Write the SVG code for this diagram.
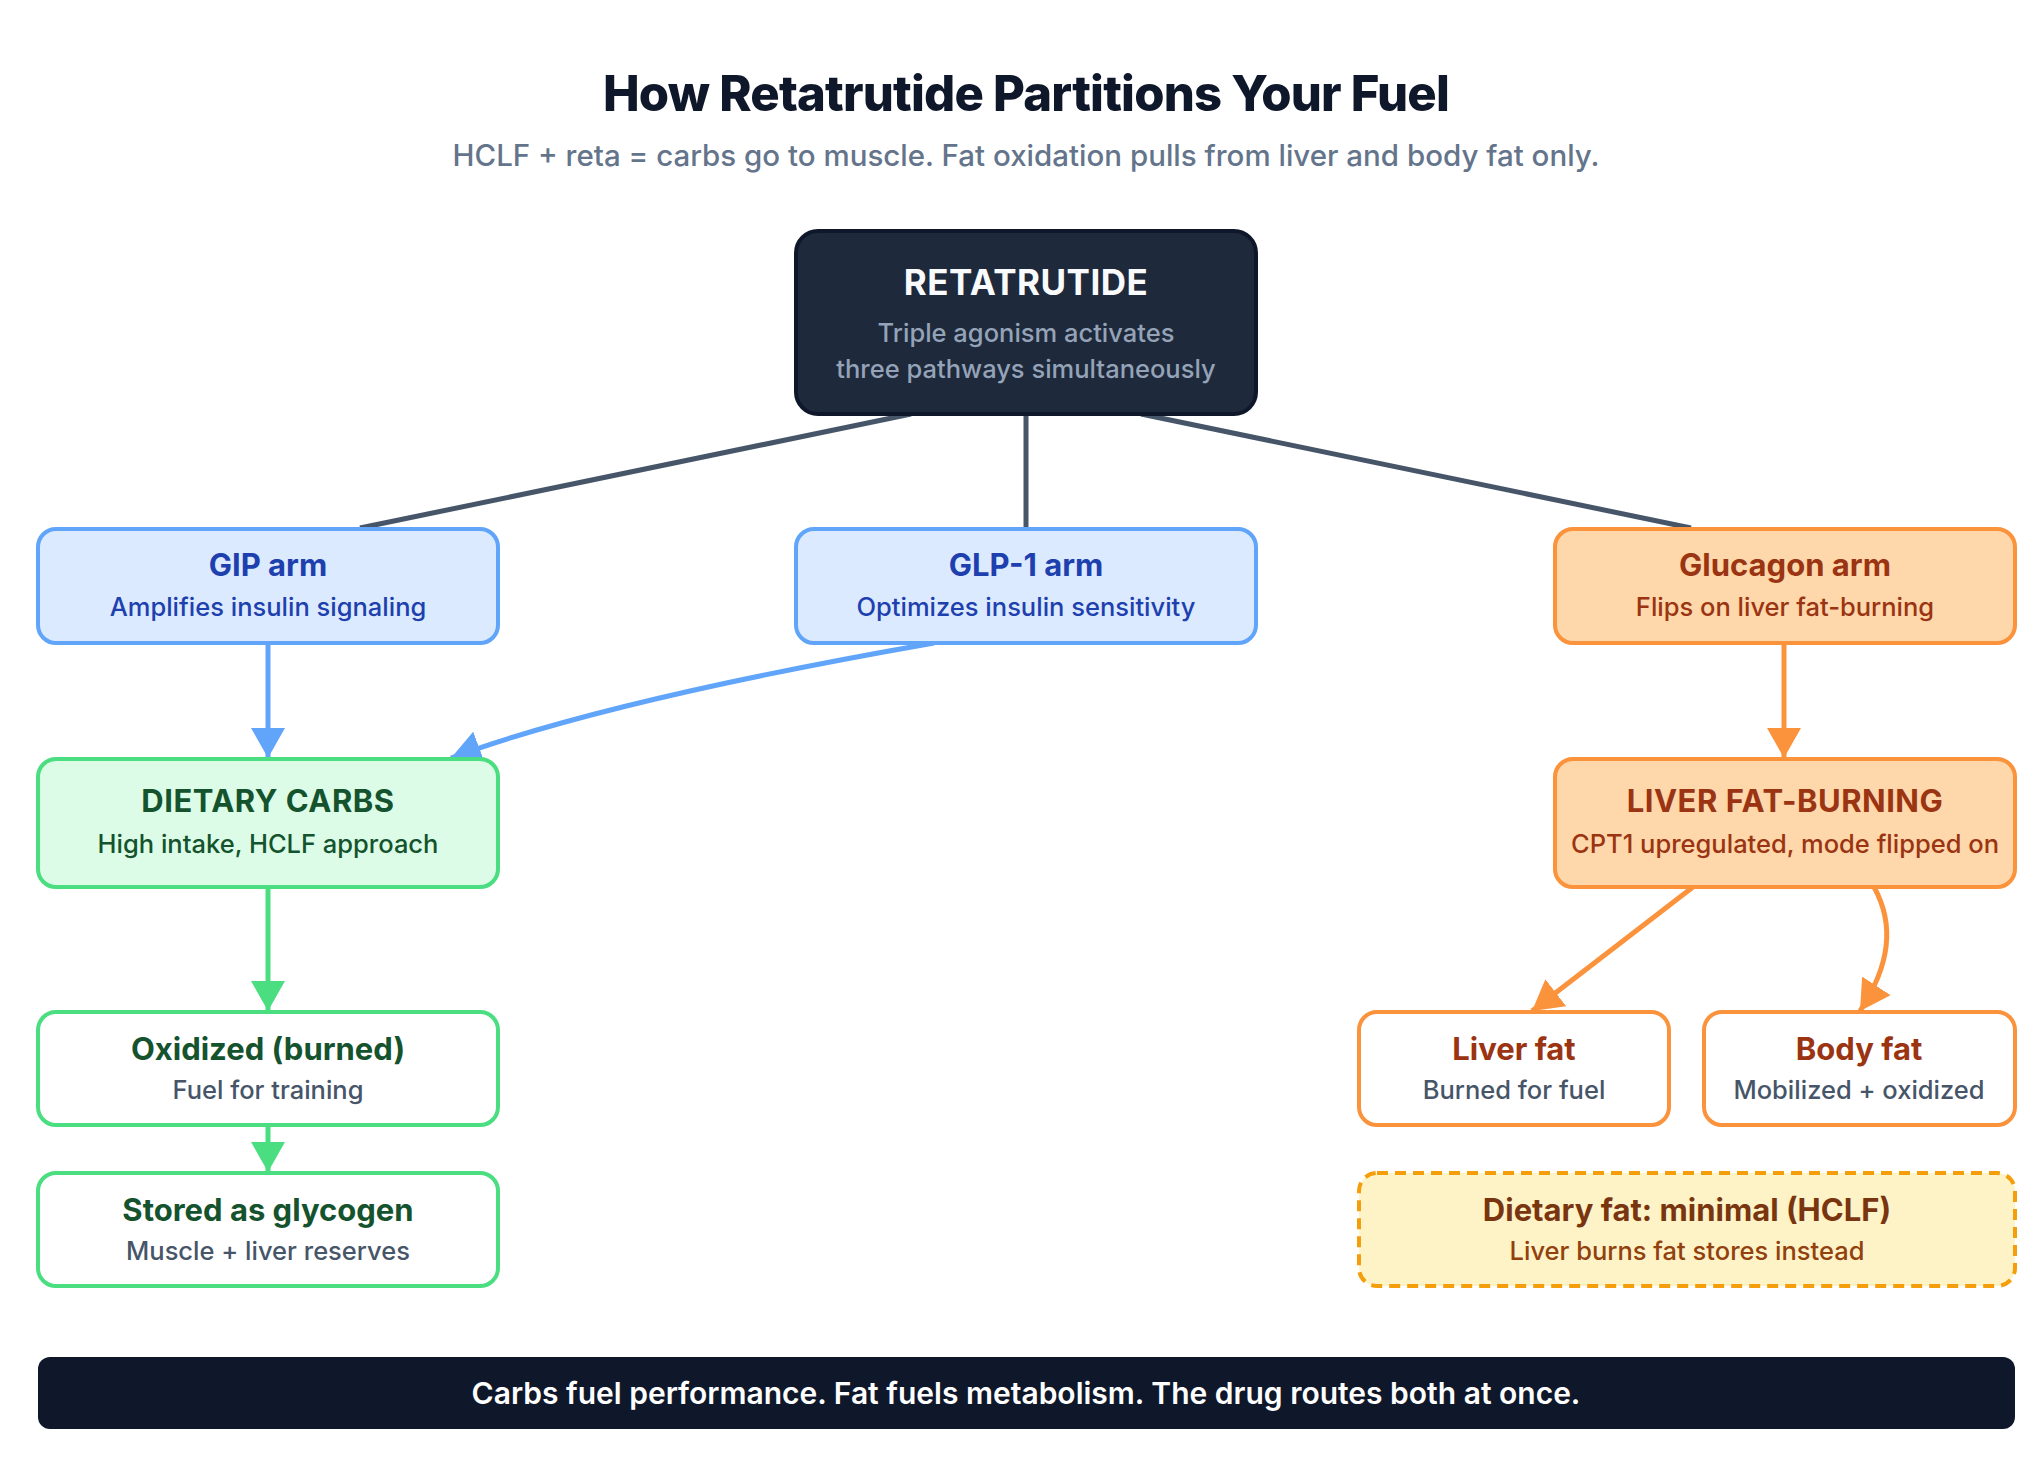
<svg xmlns="http://www.w3.org/2000/svg" width="2040" height="1472" viewBox="0 0 2040 1472">
<defs>
<style>
text{font-family:Inter,"Noto Sans","Liberation Sans",sans-serif;text-anchor:middle}
.h1{font-size:49px;font-weight:800;fill:#0f172a;letter-spacing:-0.8px}
.h2{font-size:29.5px;font-weight:500;fill:#64748b}
.t{font-size:31px;font-weight:700}
.s{font-size:25.5px;font-weight:500}
.blue rect{fill:#dbeafe;stroke:#60a5fa;stroke-width:4}
.blue text{fill:#1e40af}
.org rect{fill:#fed7aa;stroke:#fb923c;stroke-width:4}
.org text{fill:#9a3412}
.grn rect{fill:#dcfce7;stroke:#4ade80;stroke-width:4}
.grn text{fill:#14532d}
.gw rect{fill:#ffffff;stroke:#4ade80;stroke-width:4}
.gw .t{fill:#14532d}
.ow rect{fill:#ffffff;stroke:#fb923c;stroke-width:4}
.ow .t{fill:#9a3412}
.gw .s,.ow .s{fill:#475569}
.yel rect{fill:#fef3c7;stroke:#f59e0b;stroke-width:4;stroke-dasharray:11 7}
.yel .t{fill:#78350f}
.yel .s{fill:#92400e}
.c{fill:none;stroke-width:5}
</style>
<marker id="ab" markerUnits="userSpaceOnUse" markerWidth="32" markerHeight="34" refX="30" refY="17" orient="auto"><path d="M0,0 L30,17 L0,34 Z" fill="#60a5fa"/></marker>
<marker id="ag" markerUnits="userSpaceOnUse" markerWidth="32" markerHeight="34" refX="30" refY="17" orient="auto"><path d="M0,0 L30,17 L0,34 Z" fill="#4ade80"/></marker>
<marker id="ao" markerUnits="userSpaceOnUse" markerWidth="32" markerHeight="34" refX="30" refY="17" orient="auto"><path d="M0,0 L30,17 L0,34 Z" fill="#fb923c"/></marker>
</defs>
<rect width="2040" height="1472" fill="#ffffff"/>
<text class="h1" x="1026" y="111">How Retatrutide Partitions Your Fuel</text>
<text class="h2" x="1026" y="166">HCLF + reta = carbs go to muscle. Fat oxidation pulls from liver and body fat only.</text>

<g id="connectors">
<path class="c" stroke="#475569" d="M911,414 L360,528"/>
<path class="c" stroke="#475569" d="M1026,414 L1026,528"/>
<path class="c" stroke="#475569" d="M1141,414 L1691,528"/>
<path class="c" stroke="#60a5fa" d="M268,643 L268,758" marker-end="url(#ab)"/>
<path class="c" stroke="#60a5fa" d="M934,643 Q608,700 451,758" marker-end="url(#ab)"/>
<path class="c" stroke="#4ade80" d="M268,887 L268,1011" marker-end="url(#ag)"/>
<path class="c" stroke="#4ade80" d="M268,1125 L268,1172" marker-end="url(#ag)"/>
<path class="c" stroke="#fb923c" d="M1784,643 L1784,758" marker-end="url(#ao)"/>
<path class="c" stroke="#fb923c" d="M1693,887 L1532,1011" marker-end="url(#ao)"/>
<path class="c" stroke="#fb923c" d="M1874,887 C1895,925 1890,965 1860,1011" marker-end="url(#ao)"/>
</g>

<g id="retatrutide">
<rect x="796" y="231" width="460" height="183" rx="22" fill="#1e293b" stroke="#0f172a" stroke-width="4"/>
<text x="1026" y="295" style="font-size:35px;font-weight:700;fill:#f8fafc;letter-spacing:0.5px">RETATRUTIDE</text>
<text x="1026" y="342" style="font-size:25.5px;font-weight:500;fill:#94a3b8">Triple agonism activates</text>
<text x="1026" y="378" style="font-size:25.5px;font-weight:500;fill:#94a3b8">three pathways simultaneously</text>
</g>

<g id="gip" class="blue">
<rect x="38" y="529" width="460" height="114" rx="18"/>
<text class="t" x="268" y="576">GIP arm</text>
<text class="s" x="268" y="616">Amplifies insulin signaling</text>
</g>
<g id="glp1" class="blue">
<rect x="796" y="529" width="460" height="114" rx="18"/>
<text class="t" x="1026" y="576">GLP-1 arm</text>
<text class="s" x="1026" y="616">Optimizes insulin sensitivity</text>
</g>
<g id="glucagon" class="org">
<rect x="1555" y="529" width="460" height="114" rx="18"/>
<text class="t" x="1785" y="576">Glucagon arm</text>
<text class="s" x="1785" y="616">Flips on liver fat-burning</text>
</g>

<g id="carbs" class="grn">
<rect x="38" y="759" width="460" height="128" rx="18"/>
<text class="t" x="268" y="812" style="letter-spacing:0.5px">DIETARY CARBS</text>
<text class="s" x="268" y="853">High intake, HCLF approach</text>
</g>
<g id="liverburn" class="org">
<rect x="1555" y="759" width="460" height="128" rx="18"/>
<text class="t" x="1785" y="812" style="letter-spacing:0.5px">LIVER FAT-BURNING</text>
<text class="s" x="1785" y="853">CPT1 upregulated, mode flipped on</text>
</g>

<g id="oxidized" class="gw">
<rect x="38" y="1012" width="460" height="113" rx="18"/>
<text class="t" x="268" y="1060">Oxidized (burned)</text>
<text class="s" x="268" y="1099">Fuel for training</text>
</g>
<g id="stored" class="gw">
<rect x="38" y="1173" width="460" height="113" rx="18"/>
<text class="t" x="268" y="1221">Stored as glycogen</text>
<text class="s" x="268" y="1260">Muscle + liver reserves</text>
</g>

<g id="liverfat" class="ow">
<rect x="1359" y="1012" width="310" height="113" rx="18"/>
<text class="t" x="1514" y="1060">Liver fat</text>
<text class="s" x="1514" y="1099">Burned for fuel</text>
</g>
<g id="bodyfat" class="ow">
<rect x="1704" y="1012" width="311" height="113" rx="18"/>
<text class="t" x="1859" y="1060">Body fat</text>
<text class="s" x="1859" y="1099">Mobilized + oxidized</text>
</g>
<g id="dietaryfat" class="yel">
<rect x="1359" y="1173" width="656" height="113" rx="18"/>
<text class="t" x="1687" y="1221">Dietary fat: minimal (HCLF)</text>
<text class="s" x="1687" y="1260">Liver burns fat stores instead</text>
</g>

<g id="banner">
<rect x="38" y="1357" width="1977" height="72" rx="12" fill="#0f172a"/>
<text x="1026" y="1404" style="font-size:30px;font-weight:600;fill:#ffffff">Carbs fuel performance. Fat fuels metabolism. The drug routes both at once.</text>
</g>
</svg>
